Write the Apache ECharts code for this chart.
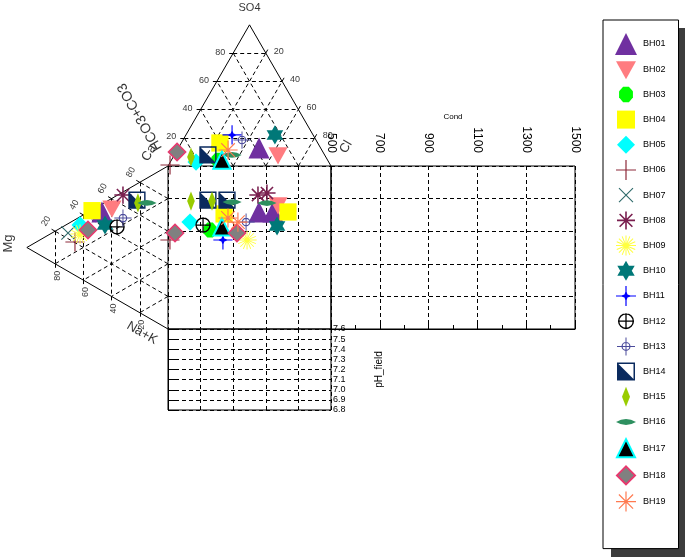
<!DOCTYPE html>
<html><head><meta charset="utf-8">
<script src="https://cdn.jsdelivr.net/npm/echarts@6/dist/echarts.min.js"></script>
<style>html,body{margin:0;padding:0;background:#fff}#c{width:685px;height:557px}</style>
</head><body><div id="c"></div>
<script>
// ---------------- data ----------------
const wells = ['BH01','BH02','BH03','BH04','BH05','BH06','BH07','BH08','BH09','BH10',
               'BH11','BH12','BH13','BH14','BH15','BH16','BH17','BH18','BH19'];
// anion triangle: [SO4 %, Cl %]  (HCO3+CO3 = remainder)
const anions = [
  [[12.7,49.5]], [[7.8,63.6]], [[4.2,28.6]], [[16.3,23.7]], [[2.8,15.8]], [[0.7,0.9]],
  [], [], [], [[22,54.6]], [[22,28.3]], [], [[18.4,36.2]], [[7.8,20.6]], [[6.4,10.9]],
  [[7.8,35.4]], [[4.2,31]], [[9.9,0.6]], [[11.3,31.2]]
];
// cation triangle: [Mg %, Na+K %]  (Ca = remainder)
const cations = [
  [[46.8,4.8]], [[39.7,6.0]], [], [[53.8,0.5]], [[62.3,5]], [[65.9,13.7]], [[70.8,5.7]],
  [[31.9,1.9]], [[62.3,10.6]], [[44.6,13.9]], [], [[36.1,19.3]], [[31.9,16]], [[22,9.9]],
  [[21.3,12]], [[14.9,15.2]], [], [[56.7,10.9]], []
];
// central square: [x %, y %]
const squarePts = [
  [[55.8,71.8],[64.4,71.8]], [[67.5,76.1]], [[25.8,60.7]], [[73.6,71.8],[34.4,70.6]],
  [[13.5,65.6]], [[1.2,54.6]], [], [[55.2,82.2],[60.7,83.4]], [[48.5,54.6]], [[66.9,63.2]],
  [[33.7,54.6]], [[21.5,63.8]], [[47.9,65.6]], [[24.5,79.1],[36.2,79.1]], [[14.1,78.5],[27,78.5]],
  [[39.3,77.9],[60.7,77.3]], [[33.1,62.6]], [[4.3,58.9],[42.3,58.9]], [[36.8,68.1],[42.9,65.6]]
];
const triTicks = [20, 40, 60, 80];
const condTicks = [500, 700, 900, 1100, 1300, 1500];
const phTicks = [6.8, 6.9, 7.0, 7.1, 7.2, 7.3, 7.4, 7.5, 7.6];

// ---------------- styling ----------------
const colors = ['#7030A0','#FF7C80','#00FF00','#FFFF00','#00FFFF','#8E2A3A','#2F6B6B','#7A1F4F','#FFFF40','#007878',
                '#0000FF','#000000','#4B4B9B','#0A2A5E','#99CC00','#2E9060','#000000','#808080','#FF7A50'];
const F = 'path://M0,0M24,24';
function f2(v){return (+v).toFixed(2);}
function arms(n, r, w){
  let s=''; for(let i=0;i<n;i++){const a=Math.PI*i/n, c=Math.cos(a), si=Math.sin(a);
    const nx=-si*w/2, ny=c*w/2, x1=12-c*r, y1=12-si*r, x2=12+c*r, y2=12+si*r;
    s+='M'+f2(x1+nx)+','+f2(y1+ny)+'L'+f2(x2+nx)+','+f2(y2+ny)+'L'+f2(x2-nx)+','+f2(y2-ny)+'L'+f2(x1-nx)+','+f2(y1-ny)+'Z';}
  return s;
}
function ring(r, w){
  const ri=r-w;
  return 'M'+(12+r)+',12A'+r+','+r+' 0 1,1 '+(12-r)+',12A'+r+','+r+' 0 1,1 '+(12+r)+',12Z'+
         'M'+(12+ri)+',12A'+ri+','+ri+' 0 1,0 '+(12-ri)+',12A'+ri+','+ri+' 0 1,0 '+(12+ri)+',12Z';
}
function rect(x1,y1,x2,y2){return 'M'+x1+','+y1+'H'+x2+'V'+y2+'H'+x1+'Z';}
function oct(r){let s='';for(let i=0;i<8;i++){const a=Math.PI/8+i*Math.PI/4;s+=(i?'L':'M')+f2(12+r*Math.cos(a))+','+f2(12+r*1.12*Math.sin(a));}return s+'Z';}
const symbols = [
  F+'M12,1L23,23L1,23Z',
  F+'M2,4L22,4L12,22Z',
  F+oct(7.5),
  F+rect(3,3,21,21),
  F+'M12,3L21,12L12,21L3,12Z',
  F+arms(2,10,1.2),
  F+'M4.6,5.4L5.4,4.6L19.4,18.6L18.6,19.4Z M18.6,4.6L19.4,5.4L5.4,19.4L4.6,18.6Z',
  F+arms(4,9,1.6),
  F+arms(8,10,1.0),
  F+'M12,2L20.7,17L3.3,17Z M12,22L3.3,7L20.7,7Z',
  F+'M12,6L13.5,10.5L18,12L13.5,13.5L12,18L10.5,13.5L6,12L10.5,10.5Z'+rect(11.4,2,12.6,22)+rect(2,11.4,22,12.6),
  F+ring(8,1.4)+rect(11.35,4,12.65,20)+rect(4,11.35,20,12.65),
  F+ring(4.5,1.2)+rect(11.5,3,12.5,21)+rect(3,11.5,21,12.5),
  F+rect(3,3,21,21)+'M4.5,4.5V19.5H19.5V4.5Z'+'M3,3L21,21L3,21Z',
  F+'M12,2L16,12L12,22L8,12Z',
  F+'M2,12Q12,6 22,12Q12,18 2,12Z',
  F+'M12,3L21,21L3,21Z',
  F+'M12,3L21,12L12,21L3,12Z',
  F+arms(4,10,1.2)
];
const borders = {16:['#00FFFF',2], 17:['#E8386E',1.5]};

// ---------------- geometry helpers ----------------
const SQ = Math.sqrt(3)/2;
const S = 1.63; // px per diagram unit
function topXY(so4, cl){ return [cl + so4/2, 100 + so4*SQ]; }
function leftXY(mg, na){ return [-mg*SQ, 100 - na - mg/2]; }
function off(p, dx, dy){ return [p[0]+dx/S, p[1]-dy/S]; }

const seg = [];
function L(a, b, dashed){ seg.push({coords:[a,b], lineStyle:{type: dashed ? [4,3] : 'solid'}}); }
L(topXY(0,0), topXY(100,0)); L(topXY(100,0), topXY(0,100));
L(leftXY(0,0), leftXY(100,0)); L(leftXY(100,0), leftXY(0,100));
triTicks.forEach(k=>{
  L(topXY(k,0), topXY(k,100-k), true);
  L(topXY(0,k), topXY(100-k,k), true);
  L(topXY(0,100-k), topXY(100-k,0), true);
  L(leftXY(k,0), leftXY(k,100-k), true);
  L(leftXY(0,k), leftXY(100-k,k), true);
  L(leftXY(0,100-k), leftXY(100-k,0), true);
  // short outward tick marks on the labelled sides
  const a = topXY(k,0), b = topXY(100-k,k), c = leftXY(100-k,0), d = leftXY(k,100-k);
  L(a, off(a,-4,0)); L(b, off(b,2,-3.5)); L(c, off(c,-3.5,-2)); L(d, off(d,0,4));
});

const labelData = [];
function T(p, text, rot, size){
  labelData.push({value:p, label:{formatter:String(text), rotate:rot||0, fontSize:size||9}});
}
triTicks.forEach(k=>{
  T(off(topXY(k,0), -13, -1), k);
  T(off(topXY(100-k,k), 13, -2), k);
  T(off(leftXY(100-k,0), -9, -10), k, 60);
  T(off(leftXY(k,100-k), 2, 12), k, 90);
});
T(off(topXY(100,0), 0, -17), 'SO4', 0, 11);
T(off(topXY(0,0), -28, -49), 'HCO3+CO3', 120, 14);
T(off(topXY(0,100), 15, -19), 'Cl', 60, 13);
T(off(leftXY(0,0), -19, -13), 'Ca', 60, 13);
T(off(leftXY(100,0), -18, -4), 'Mg', 90, 13);
T(off(leftXY(0,100), -26, 4), 'Na+K', -30, 13);

const series = [
  {type:'lines', coordinateSystem:'cartesian2d', xAxisIndex:0, yAxisIndex:0, silent:true, z:1,
   lineStyle:{color:'#000', width:1, opacity:1, curveness:0}, data:seg},
  {type:'scatter', xAxisIndex:0, yAxisIndex:0, silent:true, symbolSize:1, z:1,
   itemStyle:{color:'rgba(0,0,0,0)'}, clip:false,
   label:{show:true, position:'inside', color:'#000', fontFamily:'Arial'}, data:labelData}
];
wells.forEach((w,i)=>{
  const st = {color: colors[i], opacity:1};
  if (borders[i]) { st.borderColor = borders[i][0]; st.borderWidth = borders[i][1]; }
  const tri = anions[i].map(a=>topXY(a[0],a[1])).concat(cations[i].map(c=>leftXY(c[0],c[1])));
  series.push({name:w, type:'scatter', xAxisIndex:0, yAxisIndex:0, symbol:symbols[i], symbolSize:23,
    itemStyle:st, clip:false, z:3, data:tri});
  series.push({name:w, type:'scatter', xAxisIndex:1, yAxisIndex:1, symbol:symbols[i], symbolSize:23,
    itemStyle:st, clip:false, z:3, data:squarePts[i]});
});

const dash = {show:true, lineStyle:{color:'#000', type:[4,3], width:1}};
const hid = {axisLine:{show:false}, axisTick:{show:false}, axisLabel:{show:false}};
const font = 'Arial';
const option = {
  animation:false,
  backgroundColor:'#fff',
  textStyle:{fontFamily:font},
  graphic:[{type:'rect', z:-1, silent:true, shape:{x:611, y:28, width:80, height:540}, style:{fill:'#3c3c3c'}}],
  grid:[
    {left:0, top:0, width:685, height:557, show:false},
    {left:168, top:166, width:163, height:163, show:true, borderColor:'#000', borderWidth:1, backgroundColor:'transparent'},
    {left:331, top:166, width:244, height:163, show:true, borderColor:'#000', borderWidth:1, backgroundColor:'transparent'},
    {left:168, top:329, width:163, height:81, show:true, borderColor:'#000', borderWidth:1, backgroundColor:'transparent'}
  ],
  xAxis:[
    Object.assign({type:'value', gridIndex:0, min:-168/S, max:(685-168)/S, splitLine:{show:false}}, hid),
    Object.assign({type:'value', gridIndex:1, min:0, max:100, interval:20, splitLine:dash}, hid),
    {type:'value', gridIndex:2, position:'top', min:condTicks[0], max:condTicks[condTicks.length-1], interval:200,
     axisLine:{show:true, lineStyle:{color:'#000'}}, axisTick:{show:true, length:9, lineStyle:{color:'#000'}},
     minorTick:{show:true, splitNumber:2, length:4, lineStyle:{color:'#000'}},
     axisLabel:{rotate:-90, fontSize:12, color:'#000', margin:13, fontFamily:font, formatter:v=>String(v)},
     splitLine:dash, name:'Cond', nameLocation:'middle', nameGap:45, nameTextStyle:{fontSize:8, color:'#000', fontFamily:font}},
    Object.assign({type:'value', gridIndex:3, min:0, max:100, interval:20, splitLine:dash}, hid)
  ],
  yAxis:[
    Object.assign({type:'value', gridIndex:0, min:(329-557)/S, max:329/S, splitLine:{show:false}}, hid),
    Object.assign({type:'value', gridIndex:1, min:0, max:100, interval:20, splitLine:dash}, hid),
    Object.assign({type:'value', gridIndex:2, min:0, max:100, interval:20, splitLine:dash}, hid),
    {type:'value', gridIndex:3, position:'right', min:phTicks[0], max:phTicks[phTicks.length-1], interval:0.1,
     axisLine:{show:true, lineStyle:{color:'#000'}}, axisTick:{show:true, length:10, lineStyle:{color:'#000'}},
     axisLabel:{fontSize:9, color:'#000', margin:2, fontFamily:font, formatter:v=>(+v).toFixed(1)},
     splitLine:dash, name:'pH_field', nameLocation:'middle', nameRotate:90, nameGap:43,
     nameTextStyle:{fontSize:10, color:'#000', fontFamily:font}}
  ],
  legend:{
    data:wells, orient:'vertical', left:603, top:20, itemWidth:24, itemHeight:24, itemGap:1.2,
    padding:[12,13,35,10], borderColor:'#000', borderWidth:1, backgroundColor:'#fff',
    selectedMode:false, textStyle:{fontSize:9, color:'#000', fontFamily:font}
  },
  series:series
};
const chart = echarts.init(document.getElementById('c'), null, {renderer:'canvas'});
chart.setOption(option);
</script></body></html>
